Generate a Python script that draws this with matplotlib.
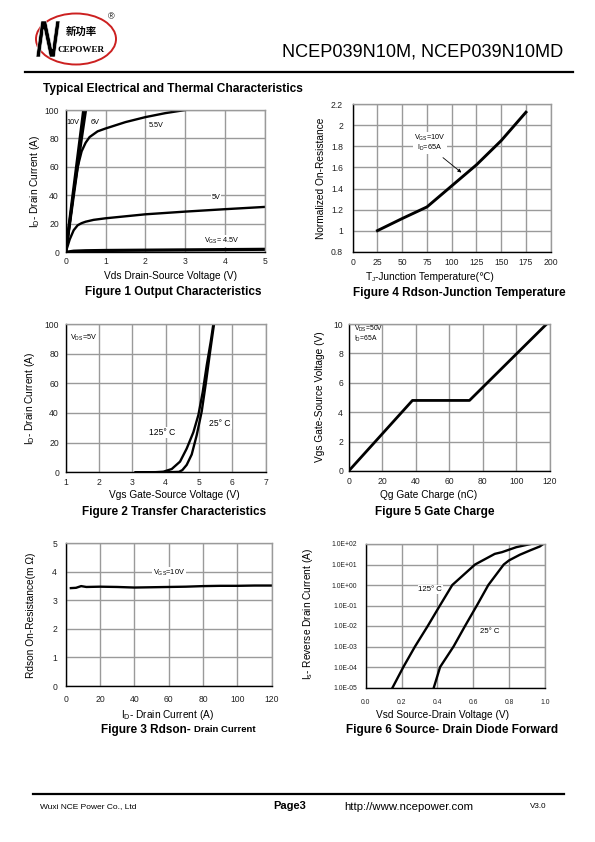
import matplotlib
matplotlib.use('Agg')
import matplotlib.pyplot as plt
from matplotlib.patches import Ellipse, PathPatch
from matplotlib.lines import Line2D
from matplotlib.textpath import TextPath
from matplotlib.font_manager import FontProperties
from matplotlib.transforms import Affine2D

plt.rcParams['font.family'] = ['Liberation Sans', 'DejaVu Sans', 'Noto Sans CJK SC']
plt.rcParams['mathtext.fontset'] = 'custom'
plt.rcParams['mathtext.rm'] = 'Liberation Sans'
plt.rcParams['mathtext.it'] = 'Liberation Sans:italic'
plt.rcParams['mathtext.bf'] = 'Liberation Sans:bold'

# ---------------- data ----------------
# Figure 1 Output characteristics
f1_vds_10v = [0, 0.45]
f1_id_10v = [0, 100]
f1_vds_6v = [0, 0.2, 0.4, 0.5]
f1_id_6v = [0, 41, 81, 100]
f1_vds_55v = [0, 0.1, 0.2, 0.3, 0.4, 0.5, 0.6, 0.8, 1.0, 1.5, 2.0, 2.5, 3.0]
f1_id_55v = [0, 20, 42, 60, 71, 77, 81, 85, 87, 91.5, 95, 97.8, 100]
f1_vds_5v = [0, 0.1, 0.2, 0.3, 0.4, 0.5, 0.7, 1.0, 2.0, 3.0, 4.0, 5.0]
f1_id_5v = [0, 9, 15.5, 19, 20.5, 21.5, 22.8, 23.9, 26.7, 28.6, 30.3, 31.9]
f1_vds_45v = [0, 0.2, 0.5, 1, 2, 3, 4, 5]
f1_id_45v = [0, 0.8, 1.1, 1.3, 1.5, 1.7, 1.9, 2.1]
f1_xticks = [0, 1, 2, 3, 4, 5]
f1_yticks = [0, 20, 40, 60, 80, 100]

# Figure 2 Transfer characteristics
f2_vgs_25 = [3.1, 4.0, 4.4, 4.5, 4.63, 4.78, 4.93, 5.08, 5.21, 5.33, 5.45]
f2_id_25 = [0, 0, 0.3, 1.5, 5, 12, 25, 41, 61, 81, 100]
f2_vgs_125 = [3.1, 3.7, 3.93, 4.18, 4.43, 4.63, 4.83, 4.98, 5.11, 5.23, 5.35, 5.43]
f2_id_125 = [0, 0.1, 0.4, 2.2, 7.2, 16, 27, 38.6, 54, 72, 88, 100]
f2_xticks = [1, 2, 3, 4, 5, 6, 7]
f2_yticks = [0, 20, 40, 60, 80, 100]

# Figure 3 Rdson - drain current
f3_id = [3, 6, 9, 12, 20, 30, 40, 50, 60, 70, 80, 90, 100, 110, 120]
f3_r = [3.43, 3.44, 3.50, 3.47, 3.48, 3.47, 3.45, 3.46, 3.47, 3.48, 3.50, 3.51, 3.51, 3.52, 3.52]
f3_xticks = [0, 20, 40, 60, 80, 100, 120]
f3_yticks = [0, 1, 2, 3, 4, 5]

# Figure 4 Rdson - junction temperature
f4_tj = [25, 50, 75, 100, 125, 150, 175]
f4_r = [1.0, 1.115, 1.225, 1.425, 1.625, 1.855, 2.125]
f4_xticks = [0, 25, 50, 75, 100, 125, 150, 175, 200]
f4_yticks = [0.8, 1.0, 1.2, 1.4, 1.6, 1.8, 2.0, 2.2]
f4_ytl = ['0.8', '1', '1.2', '1.4', '1.6', '1.8', '2', '2.2']

# Figure 5 Gate charge
f5_qg = [0, 38, 72, 118]
f5_vgs = [0, 4.8, 4.8, 10]
f5_xticks = [0, 20, 40, 60, 80, 100, 120]
f5_yticks = [0, 2, 4, 6, 8, 10]

# Figure 6 Source-drain diode forward
f6_vsd_125 = [0.15, 0.21, 0.275, 0.346, 0.414, 0.483, 0.61, 0.72, 0.76, 0.84, 0.92]
f6_is_125 = [1e-5, 1e-4, 1e-3, 1e-2, 1e-1, 1, 10, 33, 40, 70, 100]
f6_vsd_25 = [0.38, 0.415, 0.49, 0.554, 0.62, 0.684, 0.77, 0.80, 0.86, 0.92, 0.97, 0.99]
f6_is_25 = [1e-5, 1e-4, 1e-3, 1e-2, 1e-1, 1, 10, 16, 30, 50, 75, 100]
f6_xticks = [0.0, 0.2, 0.4, 0.6, 0.8, 1.0]
f6_xtl = ['0.0', '0.2', '0.4', '0.6', '0.8', '1.0']
f6_yticks = [1e-5, 1e-4, 1e-3, 1e-2, 1e-1, 1e0, 1e1, 1e2]
f6_ytl = ['1.0E-05', '1.0E-04', '1.0E-03', '1.0E-02', '1.0E-01', '1.0E+00', '1.0E+01', '1.0E+02']

# ---------------- figure ----------------
W, H = 595, 842
fig = plt.figure(figsize=(W / 100, H / 100), dpi=100)
renderer = fig.canvas.get_renderer()
GRID = '#9a9a9a'
LW = 1.7
TFS = 6.2      # tick font size
AFS = 7.3      # axis label font size
TITFS = 8.5    # figure title font size


def ax_px(l, t, r, b):
    return fig.add_axes([l / W, 1 - b / H, (r - l) / W, (b - t) / H])


def ftext(x, y, s, **kw):
    kw.setdefault('ha', 'center')
    kw.setdefault('va', 'center')
    return fig.text(x / W, 1 - y / H, s, **kw)


def seq_text(xc, ybase, parts):
    objs = []
    total = 0.0
    for s, size, dy in parts:
        t = fig.text(0, 0, s, fontsize=size, ha='left', va='baseline')
        w = t.get_window_extent(renderer).width
        objs.append((t, dy, w))
        total += w
    x = xc - total / 2
    for t, dy, w in objs:
        t.set_position((x / W, 1 - (ybase + dy) / H))
        x += w


def setup(ax, xlim, ylim, xticks, yticks, xtl=None, ytl=None, fs=TFS, xpad=3.5, ypad=4.8):
    ax.set_xlim(*xlim)
    ax.set_ylim(*ylim)
    ax.set_xticks(xticks)
    ax.set_yticks(yticks)
    if xtl is not None:
        ax.set_xticklabels(xtl)
    if ytl is not None:
        ax.set_yticklabels(ytl)
    ax.minorticks_off()
    ax.grid(True, color=GRID, lw=1.0)
    ax.set_axisbelow(True)
    for s in ['top', 'right']:
        ax.spines[s].set_color(GRID)
        ax.spines[s].set_linewidth(1.0)
    for s in ['left', 'bottom']:
        ax.spines[s].set_color('black')
        ax.spines[s].set_linewidth(1.0)
    ax.tick_params(length=0, labelsize=fs, colors='#222222')
    ax.tick_params(axis='y', pad=ypad)
    ax.tick_params(axis='x', pad=xpad)


BOX = dict(facecolor='white', edgecolor='none', pad=0.6)

# ---- header / logo ----
fig.add_artist(Ellipse((76 / W, 1 - 39 / H), 80 / W, 51 / H, angle=0,
                       fill=False, edgecolor='#cc2020', lw=1.4,
                       transform=fig.transFigure))
tp = TextPath((0, 0), 'N', size=10, prop=FontProperties(family='Liberation Sans', weight='bold'))
bb = tp.get_extents()
ntr = (Affine2D().translate(-bb.x0, -bb.y0)
       .scale(19.0 / bb.width, 36.0 / bb.height)
       .skew_deg(8, 0)
       .translate(36, H - 57)
       .scale(1.0 / W, 1.0 / H))
fig.add_artist(PathPatch(ntr.transform_path(tp), facecolor='black', edgecolor='white', lw=0.4,
                         transform=fig.transFigure))
ftext(81, 32, '新功率', fontsize=7.5, fontweight='bold', fontstyle='italic',
      family=['Noto Sans CJK SC', 'DejaVu Sans'])
ftext(81, 50, 'CEPOWER', fontsize=6.6, fontweight='bold',
      family=['Liberation Serif', 'DejaVu Serif'])
ftext(111, 17, '®', fontsize=6.5)
ftext(563, 52, 'NCEP039N10M, NCEP039N10MD', fontsize=13.1, ha='right')
fig.add_artist(Line2D([25 / W, 573 / W], [1 - 72 / H, 1 - 72 / H], color='black',
                      lw=1.6, transform=fig.transFigure))
ftext(43, 89, 'Typical Electrical and Thermal Characteristics', fontsize=8.6,
      fontweight='bold', ha='left')

# ---- footer ----
fig.add_artist(Line2D([33 / W, 564 / W], [1 - 794 / H, 1 - 794 / H], color='black',
                      lw=1.6, transform=fig.transFigure))
ftext(40, 807, 'Wuxi NCE Power Co., Ltd', fontsize=6, ha='left')
ftext(273, 806, 'Page3', fontsize=8, fontweight='bold', ha='left')
ftext(344, 807, 'http://www.ncepower.com', fontsize=8.2, ha='left')
ftext(530, 806, 'V3.0', fontsize=5.8, ha='left')

# ---- Figure 1 ----
ax1 = ax_px(65.7, 110, 265, 252.3)
setup(ax1, (0, 5), (0, 100), f1_xticks, f1_yticks, xpad=3.5, ypad=4.8)
ax1.plot(f1_vds_10v, f1_id_10v, color='black', lw=LW + 0.5, solid_capstyle='butt')
ax1.plot(f1_vds_6v, f1_id_6v, color='black', lw=LW + 0.5, solid_capstyle='butt')
ax1.plot(f1_vds_55v, f1_id_55v, color='black', lw=LW)
ax1.plot(f1_vds_5v, f1_id_5v, color='black', lw=LW)
ax1.plot(f1_vds_45v, f1_id_45v, color='black', lw=LW + 0.6)
ax1.text(0.19, 91, '10V', fontsize=5.2, ha='center', va='center')
ax1.text(0.75, 91, '6V', fontsize=5.2, ha='center', va='center')
ax1.text(2.28, 88.8, '5.5V', fontsize=5.2, ha='center', va='center')
ax1.text(3.77, 38.6, '5V', fontsize=5.2, ha='center', va='center', bbox=BOX)
ax1.text(3.92, 8, r'V$_{\mathregular{GS}}$= 4.5V', fontsize=5.2, ha='center',
         va='center', bbox=BOX)
ftext(35, 181, r'I$_{\mathregular{D}}$- Drain Current (A)', fontsize=AFS, rotation=90)
ftext(170, 276, 'Vds Drain-Source Voltage (V)', fontsize=AFS)
ftext(173, 292.5, 'Figure 1 Output Characteristics', fontsize=TITFS, fontweight='bold')

# ---- Figure 2 ----
ax2 = ax_px(65.7, 324, 265.7, 472.3)
setup(ax2, (1, 7), (0, 100), f2_xticks, f2_yticks, xpad=4, ypad=4.8)
ax2.plot(f2_vgs_125, f2_id_125, color='black', lw=LW)
ax2.plot(f2_vgs_25, f2_id_25, color='black', lw=LW)
ax2.text(1.55, 90.3, r'V$_{\mathregular{DS}}$=5V', fontsize=5.2, ha='center', va='center')
ax2.text(3.9, 27, '125° C', fontsize=6.2, ha='center', va='center', bbox=BOX)
ax2.text(5.63, 33, '25° C', fontsize=6.2, ha='center', va='center', bbox=BOX)
ftext(30, 398, r'I$_{\mathregular{D}}$- Drain Current (A)', fontsize=AFS, rotation=90)
ftext(174, 495.5, 'Vgs Gate-Source Voltage (V)', fontsize=AFS)
ftext(174, 511.5, 'Figure 2 Transfer Characteristics', fontsize=TITFS, fontweight='bold')

# ---- Figure 3 ----
ax3 = ax_px(65.7, 543.3, 271.7, 686)
setup(ax3, (0, 120), (0, 5), f3_xticks, f3_yticks, xpad=6.5, ypad=6.2)
ax3.plot(f3_id, f3_r, color='black', lw=LW)
ax3.text(60, 3.97, r'V$_{\mathregular{GS}}$=10V', fontsize=5.3, ha='center', va='center',
         bbox=BOX)
ftext(31, 615, 'Rdson On-Resistance(m Ω)', fontsize=AFS, rotation=90)
ftext(168, 714.5, r'I$_{\mathregular{D}}$- Drain Current (A)', fontsize=AFS)
ftext(191, 729.5, 'Figure 3 Rdson-', fontsize=TITFS, fontweight='bold', ha='right')
ftext(194.5, 730, 'Drain Current', fontsize=6.8, fontweight='bold', ha='left')

# ---- Figure 4 ----
ax4 = ax_px(352.7, 104.3, 550.7, 251.7)
setup(ax4, (0, 200), (0.8, 2.2), f4_xticks, f4_yticks, ytl=f4_ytl, xpad=4.5, ypad=7.0)
ax4.plot(f4_tj, f4_r, color='black', lw=LW + 0.4)
ax4.text(78, 1.83, 'V$_{\\mathregular{GS}}$=10V\nI$_{\\mathregular{D}}$=65A', fontsize=5.2,
         ha='center', va='center', linespacing=1.0, bbox=BOX)
ax4.annotate('', xy=(112, 1.535), xytext=(89, 1.71),
             arrowprops=dict(arrowstyle='-|>', color='black', lw=0.6,
                             mutation_scale=5))
ftext(321, 178, 'Normalized On-Resistance', fontsize=AFS, rotation=90)
seq_text(430, 279.5, [('T', AFS, 0), ('J', AFS * 0.62, 1.5),
                      ('-Junction Temperature(℃)', AFS, 0)])
ftext(459, 293, 'Figure 4 Rdson-Junction Temperature', fontsize=TITFS, fontweight='bold')

# ---- Figure 5 ----
ax5 = ax_px(348.7, 324, 550, 471)
setup(ax5, (0, 120), (0, 10), f5_xticks, f5_yticks, xpad=4.5, ypad=4.1)
ax5.plot(f5_qg, f5_vgs, color='black', lw=LW + 0.3)
ax5.text(3, 9.35, 'V$_{\\mathregular{DS}}$=50V\nI$_{\\mathregular{D}}$=65A', fontsize=4.9,
         ha='left', va='center', linespacing=1.0)
ftext(320, 397, 'Vgs Gate-Source Voltage (V)', fontsize=AFS, rotation=90)
ftext(429, 495.5, 'Qg Gate Charge (nC)', fontsize=AFS)
ftext(435, 511.5, 'Figure 5 Gate Charge', fontsize=TITFS, fontweight='bold')

# ---- Figure 6 ----
ax6 = ax_px(365.7, 544, 545, 687.5)
ax6.set_yscale('log')
setup(ax6, (0, 1.0), (1e-5, 1e2), f6_xticks, f6_yticks, xtl=f6_xtl, ytl=f6_ytl, fs=4.9,
      xpad=8.0, ypad=6.2)
ax6.plot(f6_vsd_125, f6_is_125, color='black', lw=LW)
ax6.plot(f6_vsd_25, f6_is_25, color='black', lw=LW)
ax6.text(0.36, 0.6, '125° C', fontsize=5.6, ha='center', va='center', bbox=BOX)
ax6.text(0.69, 0.0056, '25° C', fontsize=5.6, ha='center', va='center', bbox=BOX)
ftext(308, 614, r'I$_{\mathregular{s}}$- Reverse Drain Current (A)', fontsize=AFS, rotation=90)
ftext(443, 715, 'Vsd Source-Drain Voltage (V)', fontsize=AFS)
ftext(452, 729.5, 'Figure 6 Source- Drain Diode Forward', fontsize=TITFS, fontweight='bold')

fig.savefig('out.png', dpi=100)
